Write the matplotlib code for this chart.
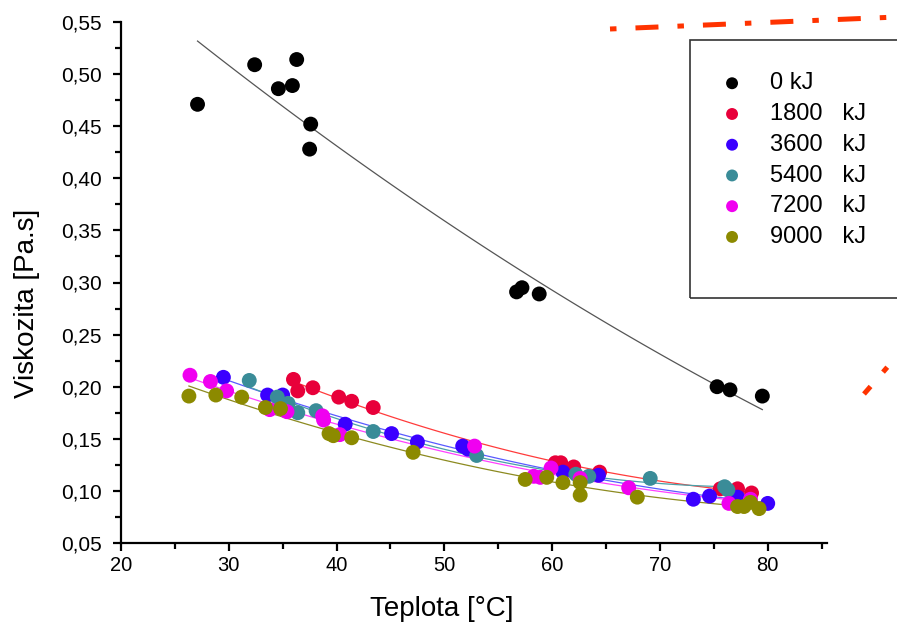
import numpy as np
import matplotlib.pyplot as plt
from matplotlib.patches import Rectangle
from matplotlib.lines import Line2D
from matplotlib.ticker import FuncFormatter, MultipleLocator

plt.rcParams['font.family'] = ['Liberation Sans', 'DejaVu Sans']

# namerena data: teplota [°C] a viskozita [Pa.s]
T_0 = [27.1, 32.4, 34.6, 35.9, 36.3, 37.6, 37.5, 56.7, 57.2, 58.8, 75.3, 76.5, 79.5]
V_0 = [0.471, 0.509, 0.486, 0.489, 0.514, 0.452, 0.428, 0.291, 0.295, 0.289, 0.200, 0.197, 0.191]

T_1800 = [36.0, 36.4, 37.8, 40.2, 41.4, 43.4, 60.3, 60.8, 62.0, 64.4, 75.6, 77.2, 78.5]
V_1800 = [0.207, 0.196, 0.199, 0.190, 0.186, 0.180, 0.127, 0.127, 0.123, 0.118, 0.102, 0.102, 0.098]

T_3600 = [29.5, 33.6, 35.0, 40.8, 45.1, 47.5, 51.7, 52.2, 61.0, 64.3, 73.1, 74.6, 77.2, 80.0]
V_3600 = [0.209, 0.192, 0.192, 0.164, 0.155, 0.147, 0.143, 0.140, 0.118, 0.115, 0.092, 0.095, 0.094, 0.088]

T_5400 = [31.9, 34.5, 35.5, 36.4, 38.1, 43.4, 53.0, 62.2, 63.4, 69.1, 76.0, 76.3]
V_5400 = [0.206, 0.190, 0.184, 0.175, 0.177, 0.157, 0.134, 0.116, 0.114, 0.112, 0.104, 0.101]

T_7200 = [26.4, 28.3, 29.8, 33.8, 35.4, 38.7, 38.8, 40.3, 52.8, 58.3, 58.9, 59.9, 62.6, 67.1, 76.4, 78.4]
V_7200 = [0.211, 0.205, 0.196, 0.178, 0.176, 0.172, 0.168, 0.154, 0.143, 0.114, 0.113, 0.122, 0.112, 0.103, 0.088, 0.092]

T_9000 = [26.3, 28.8, 31.2, 33.4, 34.8, 39.3, 39.7, 41.4, 47.1, 57.5, 59.5, 61.0, 62.6, 62.6, 67.9, 77.2, 77.8, 78.4, 79.2]
V_9000 = [0.191, 0.192, 0.190, 0.180, 0.179, 0.155, 0.153, 0.151, 0.137, 0.111, 0.113, 0.108, 0.108, 0.096, 0.094, 0.085, 0.085, 0.089, 0.083]

labels = ['0 kJ', '1800   kJ', '3600   kJ', '5400   kJ', '7200   kJ', '9000   kJ']
colors = ['#000000', '#e8003a', '#3a00ff', '#3a8c98', '#f000f0', '#8c8a00']
line_colors = ['#555555', '#ff3b3b', '#5a5aff', '#4aa0a8', '#ff40ff', '#8c8a20']
series = [(T_0, V_0), (T_1800, V_1800), (T_3600, V_3600),
          (T_5400, V_5400), (T_7200, V_7200), (T_9000, V_9000)]

fig = plt.figure(figsize=(8.97, 6.22), dpi=100)
ax = fig.add_axes([121/897, 1-543/622, (827-121)/897, (543-22)/622])

for (t, v), c, lc, lab in zip(series, colors, line_colors, labels):
    t = np.array(t)
    v = np.array(v)
    k = np.polyfit(t, v, 2)
    tt = np.linspace(t.min(), t.max(), 100)
    ax.plot(tt, np.polyval(k, tt), color=lc, lw=0.9, zorder=2)
    ax.scatter(t, v, s=115, color=c, edgecolors='none', zorder=3, label=lab)

ax.set_xlim(20, 85.5)
ax.set_ylim(0.05, 0.55)
ax.xaxis.set_major_locator(MultipleLocator(10))
ax.xaxis.set_minor_locator(MultipleLocator(5))
ax.yaxis.set_major_locator(MultipleLocator(0.05))
ax.yaxis.set_minor_locator(MultipleLocator(0.025))
ax.yaxis.set_major_formatter(FuncFormatter(lambda y, p: f'{y:.2f}'.replace('.', ',')))
ax.spines['top'].set_visible(False)
ax.spines['right'].set_visible(False)
for s in ['left', 'bottom']:
    ax.spines[s].set_linewidth(1.6)
ax.tick_params(which='major', direction='out', length=6, width=1.6, labelsize=14.5)
ax.tick_params(axis='y', which='major', labelsize=15, pad=8)
ax.tick_params(which='minor', direction='out', length=4, width=1.6)
ax.set_xlabel('Teplota [°C]', fontsize=20)
ax.set_ylabel('Viskozita [Pa.s]', fontsize=20)
ax.xaxis.set_label_coords(0.455, -0.102)
ax.yaxis.set_label_coords(-0.115, 0.46)

# legenda s ramečkem
fig.patches.append(Rectangle((690/897, 1-298/622), 230/897, 258/622, transform=fig.transFigure,
                             fill=False, edgecolor='#333333', lw=1.2))
ax.legend(loc='upper left', bbox_to_anchor=(699/897, 1-63/622), bbox_transform=fig.transFigure,
          frameon=False, fontsize=17, labelspacing=0.37, handletextpad=0.6, markerscale=0.8,
          borderaxespad=0)

# červená čerchovaná čára nahoře vpravo
dash = (0, (1.3, 3.8, 4.6, 3.8))
fig.add_artist(Line2D([610/897, 1.0], [1-29/622, 1-17/622], transform=fig.transFigure,
                      color='#ff3300', lw=3.6, linestyle=dash, dash_capstyle='butt'))
fig.add_artist(Line2D([864/897, 1.0], [1-394/622, 1-356/622], transform=fig.transFigure,
                      color='#ff3300', lw=3.6, linestyle=(7.7, (1.3, 3.8, 4.6, 3.8)),
                      dash_capstyle='butt'))

fig.savefig('out.png', dpi=100)
